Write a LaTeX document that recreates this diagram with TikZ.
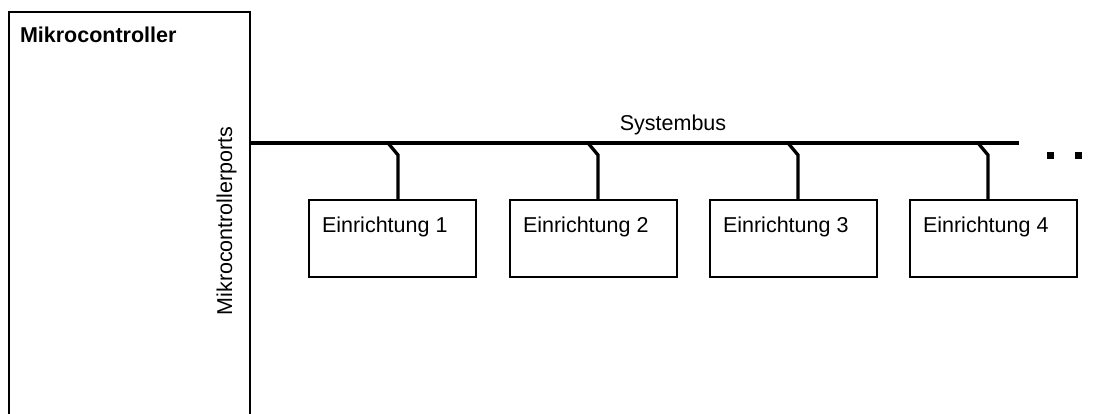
\documentclass[tikz,border=0pt]{standalone}
\usepackage{fontspec}
\setmainfont{Liberation Sans}
\begin{document}
\begin{tikzpicture}[x=1pt,y=-1pt,
  every node/.style={inner sep=0pt,outer sep=0pt,font=\fontsize{21.5}{26}\selectfont},
  frame/.style={draw,line width=2pt,line join=miter},
  devbox/.style={frame,minimum width=167pt,minimum height=77pt,anchor=north west},
  devlabel/.style={anchor=base west},
  busline/.style={line width=3.3pt},
  tap/.style={line width=3.3pt,line join=miter},
  dot/.style={fill=black}]
  \useasboundingbox (0,0) rectangle (1101,414);
  \clip (0,0) rectangle (1101,414);

  % microcontroller block (continues below the visible area)
  \node[frame,minimum width=241pt,minimum height=430pt,anchor=north west] (mcu) at (9,12) {};
  \node[anchor=base west,font=\bfseries\fontsize{21.5}{26}\selectfont] (mcutitle) at (20,43) {Mikrocontroller};
  \node[anchor=base,rotate=90] (ports) at (232,221) {Mikrocontrollerports};

  % system bus
  \coordinate (busstart) at (mcu.north east |- 0,143);
  \coordinate (busend) at (1019,143);
  \draw[busline] (busstart) -- (busend);
  \node[anchor=base] (buslabel) at (673,131) {Systembus};

  % attached devices
  \node[devbox] (dev1) at (309,200) {};
  \node[devbox] (dev2) at (510,200) {};
  \node[devbox] (dev3) at (710,200) {};
  \node[devbox] (dev4) at (910,200) {};
  \node[devlabel] (lbl1) at ([xshift=13pt,yshift=-33pt]dev1.north west) {Einrichtung 1};
  \node[devlabel] (lbl2) at ([xshift=13pt,yshift=-33pt]dev2.north west) {Einrichtung 2};
  \node[devlabel] (lbl3) at ([xshift=13pt,yshift=-33pt]dev3.north west) {Einrichtung 3};
  \node[devlabel] (lbl4) at ([xshift=13pt,yshift=-33pt]dev4.north west) {Einrichtung 4};

  % taps from the bus down to each device
  \foreach \i/\tx in {1/388,2/588,3/788,4/978}{
    \coordinate (tap\i) at (\tx,143);
    \coordinate (knee\i) at (\tx+10,155);
    \draw[tap] (tap\i) -- (knee\i) -- (knee\i |- dev\i.north);
  }

  % continuation dots
  \fill[dot] (1047,152) rectangle (1054,159);
  \fill[dot] (1074.5,152) rectangle (1081.5,159);
\end{tikzpicture}
\end{document}
